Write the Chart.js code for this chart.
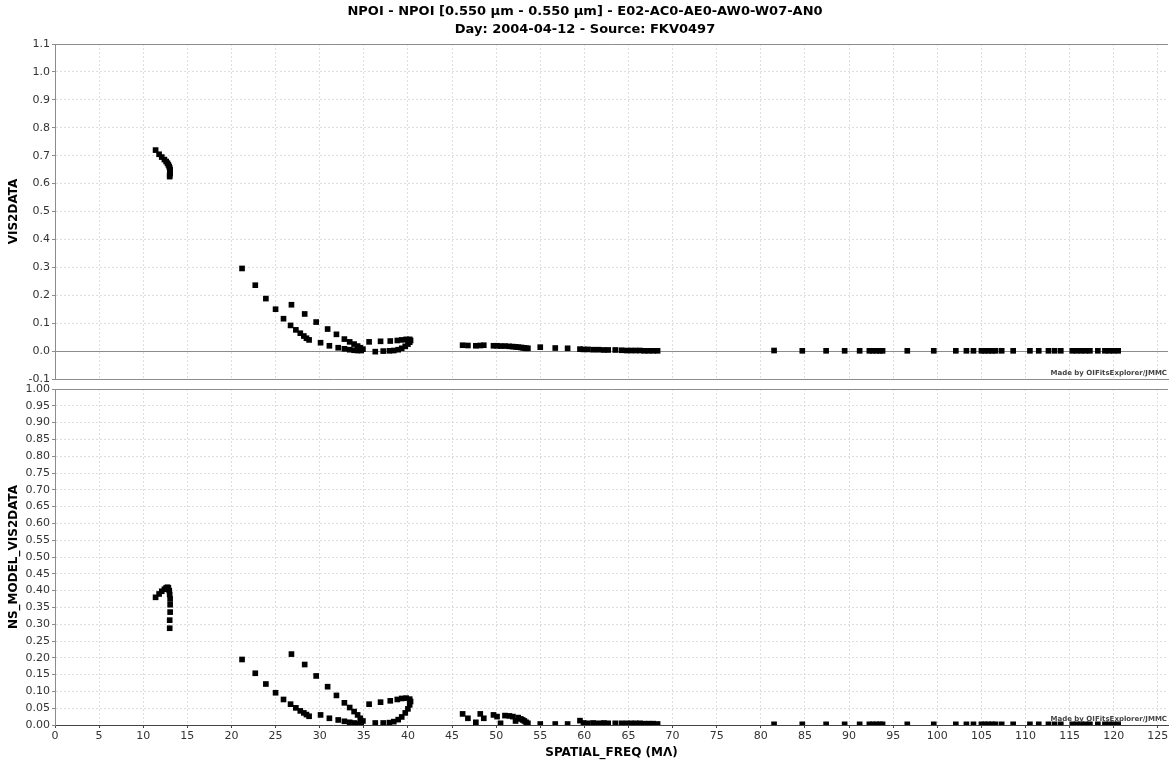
<!DOCTYPE html>
<html>
<head>
<meta charset="utf-8">
<title>NPOI VIS2DATA</title>
<script src="https://cdn.jsdelivr.net/npm/chart.js@4.4.0/dist/chart.umd.min.js"></script>
<style>
    html, body { margin: 0; padding: 0; background: #fff; }
    #wrap { position: relative; width: 1172px; height: 762px; overflow: hidden; }
    .panel { position: absolute; left: 0; width: 1172px; }
    #topPanel { top: 0; height: 390px; }
    #bottomPanel { top: 380px; height: 382px; }
</style>
</head>
<body>
<div id="wrap">
    <div class="panel" id="topPanel"><canvas id="vis2Chart"></canvas></div>
    <div class="panel" id="bottomPanel"><canvas id="modelChart"></canvas></div>
</div>
<script>
// spatial frequency (Mλ) shared by both panels
const freq = [
    11.4, 11.8, 12.1, 12.4, 12.6, 12.75, 12.85, 12.95, 13.0, 13.05, 13.05, 13.05, 13.0, 13.0,
    21.2, 22.7, 23.9, 25.0, 25.9, 26.7, 27.3, 27.8, 28.2, 28.5, 28.8, 30.1, 31.1, 32.1, 32.8,
    33.4, 33.9, 34.3, 34.7, 36.3, 37.2, 37.9, 38.4, 38.9, 39.3, 39.7, 40.0, 40.2, 40.3, 40.2,
    39.8, 39.3, 38.8, 38.0, 36.9, 35.6,
    26.8, 28.3, 29.6, 30.9, 31.9, 32.8, 33.4, 33.9, 34.3, 34.6, 34.9,
    46.2, 46.8, 47.7, 48.2, 48.6, 49.7, 50.1, 50.5, 51.0, 51.5, 51.9, 52.2, 52.5, 52.8, 53.0,
    53.2, 53.4, 53.6, 55.0, 56.7, 58.1, 59.5, 59.9, 60.4, 61.0, 61.6, 62.2, 62.7, 63.5, 64.2,
    64.8, 65.3, 65.8, 66.3, 66.8, 67.3, 67.8, 68.3,
    81.5, 84.7, 87.4, 89.5, 91.2, 92.3, 92.7, 93.1, 93.5, 93.8, 96.6, 99.6, 102.1, 103.3, 104.1,
    105.0, 105.4, 105.8, 106.2, 106.6, 107.3, 108.6, 110.5, 111.5, 112.6, 113.3, 114.0, 115.3,
    115.8, 116.3, 116.8, 117.3, 118.2, 119.0, 119.5, 120.0, 120.5
];

const vis2Data = [
    0.720, 0.705, 0.695, 0.686, 0.679, 0.673, 0.667, 0.661, 0.655, 0.649, 0.643, 0.637, 0.631, 0.625,
    0.296, 0.236, 0.188, 0.150, 0.116, 0.092, 0.076, 0.064, 0.054, 0.046, 0.040, 0.030, 0.019, 0.012, 0.008,
    0.005, 0.003, 0.002, 0.002, -0.002, 0.000, 0.001, 0.002, 0.005, 0.010, 0.017, 0.025, 0.032, 0.038, 0.042,
    0.042, 0.040, 0.038, 0.036, 0.035, 0.033,
    0.166, 0.133, 0.104, 0.079, 0.060, 0.043, 0.033, 0.025, 0.018, 0.012, 0.007,
    0.021, 0.020, 0.019, 0.020, 0.021, 0.019, 0.019, 0.018, 0.018, 0.017, 0.016, 0.015, 0.014, 0.013, 0.012,
    0.011, 0.010, 0.010, 0.014, 0.011, 0.010, 0.007, 0.006, 0.006, 0.005, 0.005, 0.004, 0.004, 0.004, 0.003,
    0.002, 0.002, 0.002, 0.002, 0.001, 0.001, 0.001, 0.001,
    0.002, 0.001, 0.001, 0.001, 0.001, 0.001, 0.001, 0.001, 0.001, 0.001, 0.001, 0.001, 0.001, 0.001, 0.001,
    0.001, 0.001, 0.001, 0.001, 0.001, 0.001, 0.001, 0.001, 0.001, 0.001, 0.001, 0.001, 0.001,
    0.001, 0.001, 0.001, 0.001, 0.001, 0.001, 0.001, 0.001, 0.001
];

const modelVis2 = [
    0.380, 0.390, 0.398, 0.404, 0.408, 0.410, 0.408, 0.400, 0.388, 0.375, 0.358, 0.336, 0.312, 0.288,
    0.195, 0.154, 0.122, 0.096, 0.076, 0.062, 0.051, 0.042, 0.036, 0.031, 0.026, 0.030, 0.020, 0.015, 0.011,
    0.008, 0.006, 0.004, 0.003, 0.006, 0.006, 0.007, 0.010, 0.016, 0.024, 0.036, 0.048, 0.060, 0.070, 0.077,
    0.080, 0.079, 0.076, 0.072, 0.068, 0.062,
    0.211, 0.180, 0.146, 0.114, 0.088, 0.066, 0.052, 0.040, 0.030, 0.020, 0.012,
    0.033, 0.020, 0.008, 0.033, 0.020, 0.030, 0.025, 0.005, 0.028, 0.027, 0.025, 0.012, 0.022, 0.018, 0.015,
    0.012, 0.008, 0.005, 0.003, 0.003, 0.003, 0.013, 0.006, 0.005, 0.006, 0.005, 0.006, 0.005, 0.005, 0.005,
    0.005, 0.005, 0.005, 0.005, 0.004, 0.004, 0.004, 0.003,
    0.002, 0.002, 0.002, 0.002, 0.002, 0.002, 0.002, 0.002, 0.002, 0.002, 0.002, 0.002, 0.002, 0.002, 0.002,
    0.002, 0.002, 0.002, 0.002, 0.002, 0.002, 0.002, 0.002, 0.002, 0.002, 0.002, 0.002, 0.002,
    0.002, 0.002, 0.002, 0.002, 0.002, 0.002, 0.002, 0.002, 0.002
];

const freqTicks = [0, 5, 10, 15, 20, 25, 30, 35, 40, 45, 50, 55, 60, 65, 70, 75, 80, 85, 90, 95, 100, 105, 110, 115, 120, 125];
const vis2Ticks = [-0.1, 0.0, 0.1, 0.2, 0.3, 0.4, 0.5, 0.6, 0.7, 0.8, 0.9, 1.0, 1.1];
const modelTicks = [0.00, 0.05, 0.10, 0.15, 0.20, 0.25, 0.30, 0.35, 0.40, 0.45, 0.50, 0.55, 0.60, 0.65, 0.70, 0.75, 0.80, 0.85, 0.90, 0.95, 1.00];

const titleLines = [
    'NPOI - NPOI [0.550 µm - 0.550 µm] - E02-AC0-AE0-AW0-W07-AN0',
    'Day: 2004-04-12 - Source: FKV0497'
];
const creditText = 'Made by OIFitsExplorer/JMMC';

const FONT = 'DejaVu Sans';
const GRID = '#dedede';
const FRAME = '#8c8c8c';

// frame, zero line and credit text
const framePlugin = {
    id: 'frame',
    beforeDatasetsDraw(chart, args, opts) {
        const { ctx, chartArea: a } = chart;
        ctx.save();
        ctx.strokeStyle = FRAME;
        ctx.lineWidth = 1;
        ctx.beginPath();
        ctx.moveTo(a.left, a.top + 0.5);
        ctx.lineTo(a.right, a.top + 0.5);
        if (opts.zeroLine) {
            const y0 = Math.round(chart.scales.y.getPixelForValue(0)) + 0.5;
            ctx.moveTo(a.left, y0);
            ctx.lineTo(a.right, y0);
        }
        ctx.stroke();
        ctx.restore();
    },
    afterDraw(chart) {
        const { ctx, chartArea: a } = chart;
        ctx.save();
        ctx.font = 'bold 7px ' + FONT;
        ctx.fillStyle = '#444';
        ctx.textAlign = 'right';
        ctx.textBaseline = 'bottom';
        ctx.fillText(creditText, a.right - 1, a.bottom - 2);
        ctx.restore();
    }
};

function points(ys) {
    return freq.map((f, i) => ({ x: f, y: ys[i] }));
}

function fixedTicks(values) {
    return function(scale) {
        scale.ticks = values.map(v => ({ value: v }));
    };
}

function buildConfig(ys, yTicks, yTitle, digits, isBottom) {
    return {
        type: 'scatter',
        data: {
            datasets: [{
                data: points(ys),
                backgroundColor: '#000',
                borderWidth: 0,
                pointStyle: 'rect',
                pointRadius: 4,
                pointHoverRadius: 4
            }]
        },
        options: {
            responsive: true,
            maintainAspectRatio: false,
            animation: false,
            layout: {
                padding: isBottom ? { top: 9, right: 2, bottom: 0, left: 0 } : { top: 0, right: 2, bottom: 11, left: 0 }
            },
            scales: {
                x: {
                    type: 'linear',
                    min: 0,
                    max: 126.15,
                    afterBuildTicks: fixedTicks(freqTicks),
                    afterFit: scale => { scale.height = isBottom ? 37 : 0; },
                    grid: {
                        color: GRID,
                        drawTicks: isBottom,
                        tickLength: 3,
                        tickColor: '#444'
                    },
                    border: { display: true, color: isBottom ? '#444' : FRAME, dash: [2, 2] },
                    ticks: {
                        display: isBottom,
                        padding: 2,
                        color: '#333',
                        maxRotation: 0,
                        autoSkip: false,
                        font: { family: FONT, size: 11 },
                        callback: value => String(value)
                    },
                    title: {
                        display: isBottom,
                        text: 'SPATIAL_FREQ (MΛ)',
                        color: '#000',
                        font: { family: FONT, size: 12, weight: 'bold' },
                        padding: { top: 0, bottom: 2 }
                    }
                },
                y: {
                    type: 'linear',
                    min: yTicks[0],
                    max: yTicks[yTicks.length - 1],
                    afterBuildTicks: fixedTicks(yTicks),
                    afterFit: scale => { scale.width = 55; },
                    grid: {
                        color: GRID,
                        tickLength: 3,
                        tickColor: FRAME
                    },
                    border: { display: true, color: FRAME, dash: [2, 2] },
                    ticks: {
                        padding: 2,
                        color: '#333',
                        autoSkip: false,
                        font: { family: FONT, size: 11 },
                        callback: value => Number(value).toFixed(digits)
                    },
                    title: {
                        display: true,
                        text: yTitle,
                        color: '#000',
                        font: { family: FONT, size: 12, weight: 'bold' },
                        padding: { top: 7, bottom: 0 }
                    }
                }
            },
            plugins: {
                legend: { display: false },
                tooltip: { enabled: false },
                title: {
                    display: !isBottom,
                    text: titleLines,
                    color: '#000',
                    font: { family: FONT, size: 13, weight: 'bold', lineHeight: 1.385 },
                    padding: { top: 3, bottom: 5 }
                },
                frame: { zeroLine: !isBottom }
            }
        },
        plugins: [framePlugin]
    };
}

const vis2Chart = new Chart(document.getElementById('vis2Chart'),
    buildConfig(vis2Data, vis2Ticks, 'VIS2DATA', 1, false));
const modelChart = new Chart(document.getElementById('modelChart'),
    buildConfig(modelVis2, modelTicks, 'NS_MODEL_VIS2DATA', 2, true));
</script>
</body>
</html>
